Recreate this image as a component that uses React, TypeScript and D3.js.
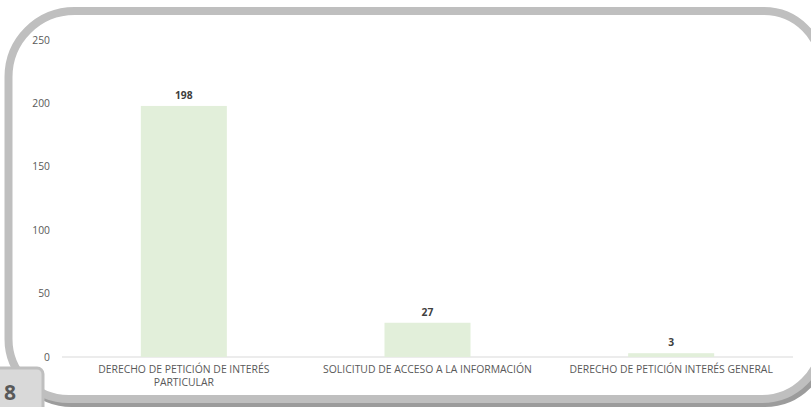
import React from "react";
import * as d3 from "d3";

const categories: string[][] = [
  ["DERECHO DE PETICIÓN DE INTERÉS", "PARTICULAR"],
  ["SOLICITUD DE ACCESO A LA INFORMACIÓN"],
  ["DERECHO DE PETICIÓN INTERÉS GENERAL"],
];
const values: number[] = [198, 27, 3];
const yTicks: number[] = [0, 50, 100, 150, 200, 250];
const pageLabel = "8";

const W = 811;
const H = 407;
const FONT = "'Open Sans', Lato, sans-serif";

export default function App() {
  const x = d3
    .scaleBand<number>()
    .domain(values.map((_, i) => i))
    .range([62, 793])
    .paddingInner(0.647)
    .paddingOuter(0.3235);
  const y = d3.scaleLinear().domain([0, 250]).range([357, 40]);

  const fx0 = 8.5, fy0 = 11, fx1 = 822, fy1 = 399;
  const rTL = 66, rTR = 58, rBR = 60, rBL = 60;
  const framePath = `M${fx0 + rTL},${fy0} L${fx1 - rTR},${fy0} A${rTR},${rTR} 0 0 1 ${fx1},${fy0 + rTR} L${fx1},${fy1 - rBR} A${rBR},${rBR} 0 0 1 ${fx1 - rBR},${fy1} L${fx0 + rBL},${fy1} A${rBL},${rBL} 0 0 1 ${fx0},${fy1 - rBL} L${fx0},${fy0 + rTL} A${rTL},${rTL} 0 0 1 ${fx0 + rTL},${fy0} Z`;

  return (
    <svg width={W} height={H} style={{ position: "absolute", left: 0, top: 0 }}>
      <rect x={0} y={0} width={W} height={H} fill="#ffffff" />
      <path d={framePath} fill="none" stroke="#9c9c9c" strokeWidth={8} transform="translate(3,4)" />
      <path d={framePath} fill="#ffffff" stroke="#bfbfbf" strokeWidth={8} />

      {yTicks.map((t) => (
        <text
          key={t}
          x={50}
          y={y(t)}
          dy="0.35em"
          textAnchor="end"
          fontFamily={FONT}
          fontSize={10.3}
          fill="#595959"
        >
          {t}
        </text>
      ))}

      <line x1={62} x2={793} y1={y(0)} y2={y(0)} stroke="#d9d9d9" strokeWidth={1} />

      {values.map((v, i) => (
        <rect
          key={i}
          x={x(i)!}
          y={y(v)}
          width={x.bandwidth()}
          height={y(0) - y(v)}
          fill="#e2efda"
        />
      ))}

      {values.map((v, i) => (
        <text
          key={i}
          x={x(i)! + x.bandwidth() / 2}
          y={y(v) - 7}
          textAnchor="middle"
          fontFamily={FONT}
          fontSize={10.3}
          fontWeight="bold"
          fill="#404040"
        >
          {v}
        </text>
      ))}

      {categories.map((lines, i) =>
        lines.map((l, j) => (
          <text
            key={`${i}-${j}`}
            x={x(i)! + x.bandwidth() / 2}
            y={373 + j * 12.5}
            textAnchor="middle"
            fontFamily={FONT}
            fontSize={10.4}
            fill="#595959"
          >
            {l}
          </text>
        ))
      )}

      <rect x={-10} y={368} width={53} height={50} rx={6} fill="#d9d9d9" stroke="#bfbfbf" strokeWidth={3} />
      <text x={4} y={400} fontFamily={FONT} fontSize={21} fontWeight="bold" fill="#595959">
        {pageLabel}
      </text>
    </svg>
  );
}
